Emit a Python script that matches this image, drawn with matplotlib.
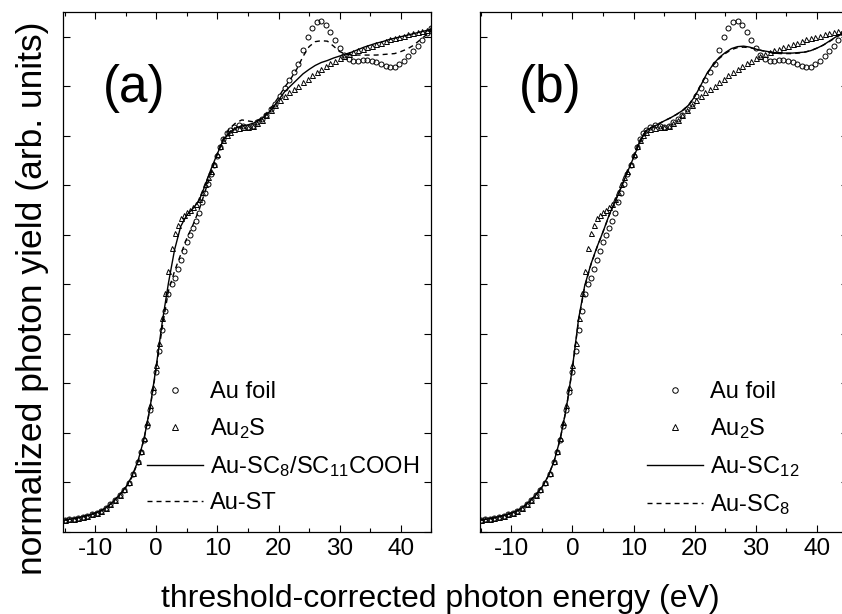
import matplotlib
matplotlib.use("Agg")
import matplotlib.pyplot as plt
from matplotlib.ticker import MultipleLocator, NullFormatter

plt.rcParams['font.family'] = ['Liberation Sans', 'DejaVu Sans']
plt.rcParams['mathtext.fontset'] = 'custom'
plt.rcParams['mathtext.rm'] = 'Liberation Sans'
plt.rcParams['mathtext.it'] = 'Liberation Sans:italic'
plt.rcParams['axes.unicode_minus'] = False
plt.rcParams['lines.scale_dashes'] = False

### Reference spectra (markers), threshold-corrected energy in eV ###

E_ref = [-15, -14.25, -13.5, -12.75, -12, -11.25, -10.5, -9.75, -9, -8.25,
         -7.5, -6.75, -6, -5.25, -4.5, -3.75, -3,
         -2.5, -2, -1.5, -1, -0.5, 0, 0.5, 1, 1.5, 2, 2.5, 3, 3.5, 4, 4.5,
         5, 5.5, 6, 6.5, 7, 7.5, 8, 8.5, 9, 9.5, 10, 10.5, 11, 11.5, 12,
         12.75, 13.5, 14.25, 15, 15.75, 16.5, 17.25, 18, 18.75, 19.5, 20.25,
         21, 21.75, 22.5, 23.25, 24, 24.75, 25.5, 26.25, 27, 27.75, 28.5,
         29.25, 30, 30.75, 31.5, 32.25, 33, 33.75, 34.5, 35.25, 36, 36.75,
         37.5, 38.25, 39, 39.75, 40.5, 41.25, 42, 42.75, 43.5, 44.25, 45]

au_foil = [0.024, 0.026, 0.027, 0.029, 0.031, 0.033, 0.036, 0.039, 0.043, 0.049,
           0.057, 0.065, 0.075, 0.085, 0.099, 0.118, 0.141,
           0.162, 0.186, 0.214, 0.246, 0.283, 0.323, 0.366, 0.408, 0.447, 0.480,
           0.500, 0.513, 0.531, 0.550, 0.568, 0.586, 0.600, 0.614, 0.627, 0.645,
           0.667, 0.684, 0.703, 0.722, 0.742, 0.760, 0.778, 0.793, 0.805, 0.811,
           0.818, 0.822, 0.820, 0.818, 0.820, 0.827, 0.834, 0.842, 0.854, 0.864,
           0.881, 0.897, 0.912, 0.928, 0.945, 0.973, 1.000, 1.018, 1.030, 1.032,
           1.023, 1.010, 0.994, 0.977, 0.964, 0.956, 0.952, 0.952, 0.954, 0.954,
           0.951, 0.948, 0.944, 0.941, 0.938, 0.939, 0.944, 0.952, 0.962, 0.971,
           0.981, 0.993, 1.008, 1.018]

au2s = [0.024, 0.026, 0.027, 0.029, 0.031, 0.033, 0.036, 0.039, 0.043, 0.049,
        0.057, 0.065, 0.075, 0.086, 0.100, 0.119, 0.144,
        0.164, 0.190, 0.222, 0.256, 0.293, 0.337, 0.382, 0.433, 0.483, 0.526,
        0.573, 0.603, 0.619, 0.634, 0.641, 0.647, 0.651, 0.656, 0.662, 0.672,
        0.686, 0.702, 0.716, 0.729, 0.743, 0.763, 0.780, 0.792, 0.801, 0.807,
        0.813, 0.816, 0.818, 0.818, 0.820, 0.825, 0.832, 0.842, 0.852, 0.863,
        0.872, 0.880, 0.888, 0.895, 0.901, 0.908, 0.915, 0.922, 0.929, 0.935,
        0.941, 0.946, 0.952, 0.957, 0.961, 0.966, 0.970, 0.973, 0.976, 0.979,
        0.982, 0.985, 0.988, 0.991, 0.995, 0.998, 1.000, 1.002, 1.005, 1.007,
        1.009, 1.011, 1.014, 1.017]

### Nanoparticle spectra (lines) ###

E_np = [-15, -14, -13, -12, -11, -10, -9, -8, -7, -6, -5, -4, -3, -2, -1, 0,
        1, 2, 3, 4, 5, 6, 7, 8, 9, 10, 11, 12, 13, 14, 15, 16, 17, 18, 19, 20,
        21, 22, 23, 24, 25, 26, 27, 28, 29, 30, 31, 32, 33, 34, 35, 36, 37, 38,
        39, 40, 41, 42, 43, 44, 45]

au_sc8_sc11cooh = [0.024, 0.026, 0.028, 0.031, 0.034, 0.038, 0.043, 0.051, 0.062,
                   0.075, 0.090, 0.112, 0.143, 0.188, 0.252, 0.335,
                   0.425, 0.503, 0.570, 0.617, 0.640, 0.653, 0.669, 0.700, 0.734,
                   0.764, 0.792, 0.807, 0.816, 0.820, 0.822, 0.826, 0.832, 0.842,
                   0.855, 0.872, 0.889, 0.901, 0.913, 0.925, 0.934, 0.942, 0.948,
                   0.952, 0.957, 0.961, 0.965, 0.969, 0.974, 0.979, 0.983, 0.987,
                   0.990, 0.994, 0.997, 1.000, 1.003, 1.006, 1.009, 1.012, 1.015]

au_st = [0.024, 0.026, 0.028, 0.031, 0.034, 0.038, 0.043, 0.051, 0.062,
         0.075, 0.089, 0.110, 0.141, 0.188, 0.250, 0.330,
         0.415, 0.487, 0.527, 0.560, 0.593, 0.620, 0.650, 0.688, 0.726,
         0.763, 0.795, 0.815, 0.826, 0.832, 0.830, 0.828, 0.834, 0.845,
         0.860, 0.878, 0.898, 0.915, 0.935, 0.960, 0.980, 0.990, 0.992,
         0.991, 0.981, 0.970, 0.965, 0.963, 0.963, 0.963, 0.963, 0.963,
         0.964, 0.965, 0.966, 0.970, 0.975, 0.982, 0.992, 1.002, 1.012]

au_sc12 = [0.024, 0.026, 0.028, 0.031, 0.034, 0.038, 0.043, 0.051, 0.062,
           0.075, 0.090, 0.112, 0.143, 0.188, 0.250, 0.332,
           0.430, 0.497, 0.540, 0.575, 0.606, 0.640, 0.668, 0.697, 0.727,
           0.756, 0.787, 0.810, 0.817, 0.823, 0.830, 0.836, 0.843, 0.851,
           0.862, 0.879, 0.902, 0.926, 0.944, 0.958, 0.968, 0.976, 0.980,
           0.981, 0.979, 0.975, 0.972, 0.970, 0.968, 0.967, 0.967, 0.967,
           0.968, 0.969, 0.972, 0.977, 0.983, 0.991, 0.999, 1.006, 1.013]

au_sc8 = [0.024, 0.026, 0.028, 0.031, 0.034, 0.038, 0.043, 0.051, 0.062,
          0.075, 0.090, 0.112, 0.143, 0.188, 0.249, 0.330,
          0.427, 0.495, 0.539, 0.574, 0.606, 0.639, 0.668, 0.697, 0.727,
          0.757, 0.788, 0.810, 0.818, 0.824, 0.830, 0.836, 0.843, 0.851,
          0.862, 0.880, 0.903, 0.925, 0.942, 0.956, 0.966, 0.974, 0.978,
          0.979, 0.978, 0.975, 0.972, 0.969, 0.967, 0.966, 0.966, 0.966,
          0.967, 0.969, 0.972, 0.977, 0.983, 0.990, 0.998, 1.005, 1.012]

panel_labels = ['(a)', '(b)']
line_series = [(au_sc8_sc11cooh, au_st, 'Au-SC$_\\mathregular{8}$/SC$_\\mathregular{11}$COOH', 'Au-ST'),
               (au_sc12, au_sc8, 'Au-SC$_\\mathregular{12}$', 'Au-SC$_\\mathregular{8}$')]
legend_x = [0.227, 0.454]

### Figure ###

fig = plt.figure(figsize=(8.42, 6.14), dpi=100)

axes_pos = [[0.0752, 0.1336, 0.4371, 0.8469],
            [0.5695, 0.1336, 0.4371, 0.8469]]

for i in range(2):
    ax = fig.add_axes(axes_pos[i])
    solid, dashed, solid_label, dashed_label = line_series[i]

    # Reference spectra as open markers
    ax.plot(E_ref, au_foil, 'o', ms=3.6, mfc='none', mec='black', mew=0.7,
            label='Au foil')
    ax.plot(E_ref, au2s, '^', ms=3.6, mfc='none', mec='black', mew=0.7,
            label='Au$_\\mathregular{2}$S')

    # Nanoparticle spectra as lines
    ax.plot(E_np, solid, '-', color='black', lw=1.0, label=solid_label)
    ax.plot(E_np, dashed, color='black', lw=1.0, dashes=(3.6, 2.9),
            label=dashed_label)

    ax.set_xlim(-15.2, 45)
    ax.set_ylim(0, 1.05)

    ax.xaxis.set_major_locator(MultipleLocator(10))
    ax.xaxis.set_minor_locator(MultipleLocator(5))
    ax.yaxis.set_major_locator(MultipleLocator(0.1))
    ax.yaxis.set_major_formatter(NullFormatter())

    ax.tick_params(which='both', direction='in', top=True, right=True,
                   width=0.8, labelsize=17.5, pad=4.5)
    ax.tick_params(which='major', length=5)
    ax.tick_params(which='minor', length=3)
    for sp in ax.spines.values():
        sp.set_linewidth(0.9)

    ax.text(0.192, 0.852, panel_labels[i], transform=ax.transAxes,
            fontsize=37, ha='center', va='center')

    ax.legend(loc='upper left', bbox_to_anchor=(legend_x[i], 0.29),
              frameon=False, fontsize=17, handlelength=2.37,
              handletextpad=0.3, labelspacing=0.55, borderpad=0,
              borderaxespad=0, markerscale=1.1)

fig.text(0.5226, 0.0114, 'threshold-corrected photon energy (eV)',
         fontsize=23, ha='center', va='baseline')
fig.text(42 / 842, 0.5147, 'normalized photon yield (arb. units)',
         fontsize=25.5, ha='center', va='baseline', rotation=90,
         rotation_mode='anchor')

plt.savefig('out.png', dpi=100)
